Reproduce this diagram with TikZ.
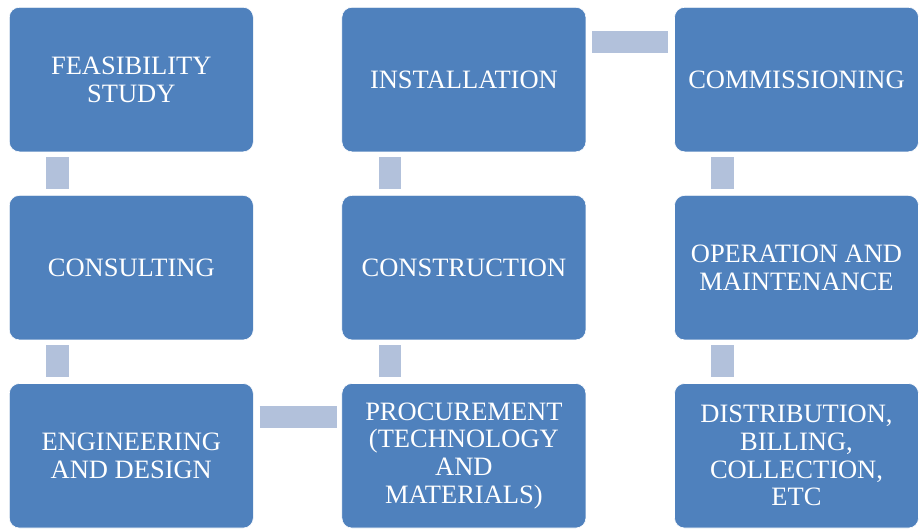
\documentclass[tikz,border=0pt]{standalone}
\usepackage{fontspec}
\setmainfont{Liberation Serif}
\usepackage{tikz}
\usetikzlibrary{positioning, calc}
\definecolor{StepBlue}{RGB}{79,129,189}
\definecolor{LinkBlue}{RGB}{178,193,219}

\begin{document}
\begin{tikzpicture}[x=1pt, y=-1pt, node distance=43pt and 88pt,
	etapa/.style={rectangle, fill=StepBlue, draw=white, line width=0.6pt, rounded corners=10pt,
		align=center, text=white, minimum width=244pt, minimum height=144.5pt, inner sep=4pt,
		font=\fontsize{26.5}{27.7}\selectfont},
	enlace/.style={draw=LinkBlue, line width=22.5pt}]

	\useasboundingbox (0,0) rectangle (921,530);

	% first column
	\node[etapa, anchor=north west] (feas) at (9,7) {FEASIBILITY\\STUDY};
	\node[etapa, below=of feas] (cons) {CONSULTING};
	\node[etapa, below=of cons] (eng) {ENGINEERING\\AND DESIGN};
	% second column
	\node[etapa, right=of eng] (proc) {PROCUREMENT\\(TECHNOLOGY\\AND\\MATERIALS)};
	\node[etapa, right=of cons] (constr) {CONSTRUCTION};
	\node[etapa, right=of feas] (inst) {INSTALLATION};
	% third column
	\node[etapa, right=of inst] (comm) {COMMISSIONING};
	\node[etapa, right=of constr] (oper) {OPERATION AND\\MAINTENANCE};
	\node[etapa, right=of proc] (dist) {DISTRIBUTION,\\BILLING,\\COLLECTION,\\ETC};

	\draw[enlace] ($(feas.south west)+(48.5,5)$) -- ($(cons.north west)+(48.5,-6)$);
	\draw[enlace] ($(cons.south west)+(48.5,5)$) -- ($(eng.north west)+(48.5,-6)$);
	\draw[enlace] ($(eng.north east)+(6,34)$) -- ($(proc.north west)+(-5,34)$);
	\draw[enlace] ($(proc.north west)+(48.5,-6)$) -- ($(constr.south west)+(48.5,5)$);
	\draw[enlace] ($(constr.north west)+(48.5,-6)$) -- ($(inst.south west)+(48.5,5)$);
	\draw[enlace] ($(inst.north east)+(6,35)$) -- ($(comm.north west)+(-6,35)$);
	\draw[enlace] ($(comm.south west)+(48.5,5)$) -- ($(oper.north west)+(48.5,-6)$);
	\draw[enlace] ($(oper.south west)+(48.5,5)$) -- ($(dist.north west)+(48.5,-6)$);
\end{tikzpicture}
\end{document}
